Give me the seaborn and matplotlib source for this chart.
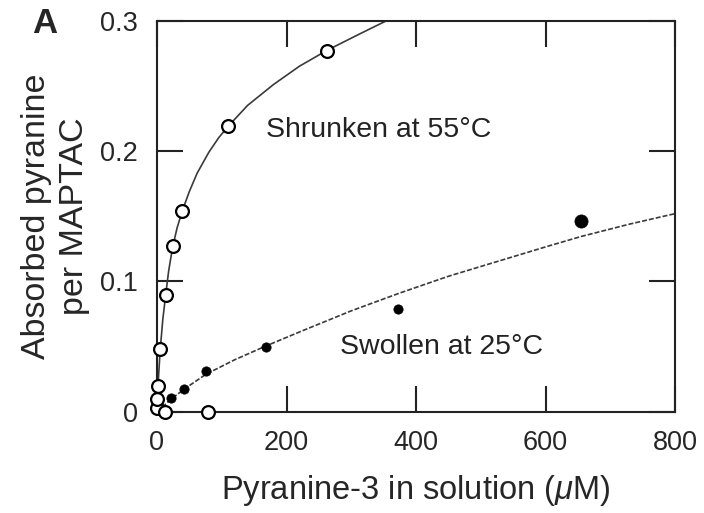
import numpy as np
import pandas as pd
import matplotlib
matplotlib.use("Agg")
import matplotlib.pyplot as plt
import seaborn as sns

# Data
# Shrunken gel at 55C (open circles)
shrunk_x = [0, 0.5, 1.5, 12, 79, 5, 13.5, 24, 39, 110, 262]
shrunk_y = [0.003, 0.010, 0.020, 0.0, 0.0, 0.048, 0.090, 0.127, 0.154, 0.219, 0.277]
# Swollen gel at 25C (filled circles)
swoll_x = [21, 42, 76, 168, 372, 655]
swoll_y = [0.0105, 0.0174, 0.031, 0.050, 0.079, 0.146]

# fitted curves
shrunk_fit_x = [0, 1, 2.5, 5, 9, 13.5, 18, 24, 31, 39, 50, 62, 80, 95, 110, 140, 180, 220, 262, 310, 355]
shrunk_fit_y = [0.0, 0.012, 0.028, 0.048, 0.071, 0.090, 0.108, 0.126, 0.141, 0.154, 0.169, 0.183, 0.199, 0.210, 0.219, 0.235, 0.251, 0.265, 0.277, 0.289, 0.300]
swoll_fit_x = [0, 21, 42, 76, 120, 168, 221, 300, 374, 450, 530, 600, 655, 730, 800]
swoll_fit_y = [0.0, 0.0095, 0.0175, 0.029, 0.040, 0.0505, 0.0615, 0.0775, 0.091, 0.104, 0.116, 0.1265, 0.1345, 0.144, 0.152]

xticks = [0, 200, 400, 600, 800]
xtick_labels = ["0", "200", "400", "600", "800"]
yticks = [0, 0.1, 0.2, 0.3]
ytick_labels = ["0", "0.1", "0.2", "0.3"]

sns.set_style("ticks")
plt.rcParams['font.family'] = ['Liberation Sans', 'DejaVu Sans']
plt.rcParams['mathtext.fontset'] = 'custom'
plt.rcParams['mathtext.it'] = 'Liberation Sans:italic'
plt.rcParams['mathtext.rm'] = 'Liberation Sans'

fig = plt.figure(figsize=(7.04, 5.13), dpi=100)
ax = fig.add_axes([0.223, 0.197, 0.736, 0.763])

line_col = "#3a3a3a"

# curves
sns.lineplot(x=shrunk_fit_x, y=shrunk_fit_y, sort=False, color=line_col, lw=1.2, ax=ax)
sns.lineplot(x=swoll_fit_x, y=swoll_fit_y, sort=False, color=line_col, lw=1.2,
             dashes=False, ax=ax, linestyle=(0, (3, 1.2)))

# points
sns.scatterplot(x=shrunk_x, y=shrunk_y, marker='o', s=85, facecolor='white',
                edgecolor='black', linewidth=1.6, ax=ax, zorder=5, clip_on=False)
sns.scatterplot(x=swoll_x[:-1], y=swoll_y[:-1], marker='o', s=45, color='black',
                edgecolor='black', linewidth=0.5, ax=ax, zorder=5, clip_on=False)
sns.scatterplot(x=swoll_x[-1:], y=swoll_y[-1:], marker='o', s=90, color='black',
                edgecolor='black', linewidth=0.5, ax=ax, zorder=5, clip_on=False)

ax.set_xlim(0, 800)
ax.set_ylim(0, 0.3)
ax.set_xticks(xticks)
ax.set_xticklabels(xtick_labels)
ax.set_yticks(yticks)
ax.set_yticklabels(ytick_labels)

for s in ax.spines.values():
    s.set_visible(True)
    s.set_linewidth(1.5)
    s.set_color("#222222")

ax.tick_params(direction='in', length=19, width=1.5, color="#222222",
               top=True, right=True, labelsize=19.5)
ax.tick_params(axis='x', pad=13)
ax.tick_params(axis='y', pad=14)

ax.set_xlabel(r"Pyranine-3 in solution ($\mathit{\mu}$M)", fontsize=23.5, labelpad=12)
ax.set_ylabel("Absorbed pyranine\nper MAPTAC", fontsize=24.5, labelpad=7, linespacing=1.3)

ax.text(168, 0.216, "Shrunken at 55°C", fontsize=20.5, va='center', ha='left', color="#222222")
ax.text(283, 0.0498, "Swollen at 25°C", fontsize=20.5, va='center', ha='left', color="#222222")

fig.text(0.045, 0.955, "A", fontsize=25, fontweight='bold', ha='left', va='center')

fig.savefig("out.png", dpi=100)
